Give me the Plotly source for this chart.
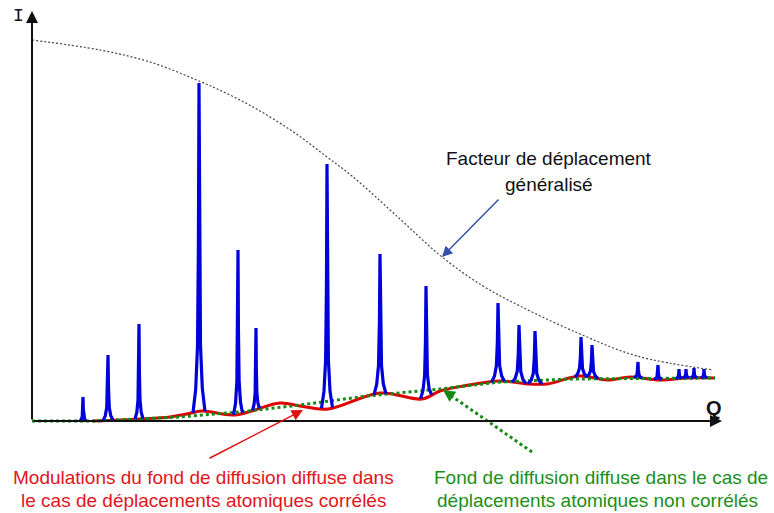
import numpy as np
import plotly.graph_objects as go

# ---------------- data (Q along the axis, I above the baseline) ----------------
# generalised displacement factor (grey dotted envelope)
env_q = [0, 68, 118, 167, 198, 228, 263, 295, 320, 368, 410, 451, 488, 548, 605, 681]
env_i = [381, 371, 359, 340, 326, 310, 288, 264, 245, 202, 164, 135, 115, 87, 65, 51]

# diffuse background, correlated displacements (red, modulated)
red_q = [61, 108, 138, 155, 170, 203, 248, 268, 296, 348, 390, 408, 431, 468, 498, 515, 548, 575, 598, 628, 655, 683]
red_i = [0, 2, 4, 7, 10, 6, 18, 15, 12, 28, 22, 30, 35, 40, 37, 37, 45, 41, 44, 41, 43, 43]

# diffuse background, uncorrelated displacements (green dotted)
grn_q = [0, 63, 148, 208, 268, 335, 408, 468, 538, 683]
grn_i = [0, 0, 4, 9, 16, 25, 32, 39, 42, 43]

# Bragg peaks: position, top intensity, half base width
peak_q = [51, 76, 107, 167, 206, 224, 295, 348, 394, 466, 487, 503, 549, 560, 606, 626, 647, 654, 662, 672]
peak_i = [24, 66, 97, 338, 171, 93, 257, 167, 135, 118, 96, 90, 84, 76, 59, 56, 52, 52, 53, 52]
peak_w = [3, 5, 4, 6, 4.5, 3.5, 5.5, 6, 5.5, 6.5, 7, 7, 6, 6, 4, 4, 3, 3, 3, 3]

# ---------------- build peak polyline ----------------
prof_t = [-1, -0.55, -0.25, -0.1, 0, 0.1, 0.25, 0.55, 1]
prof_f = [0, 0.07, 0.2, 0.5, 1, 0.5, 0.2, 0.07, 0]
bx, by = [], []
for q, top, w in zip(peak_q, peak_i, peak_w):
    for t, f in zip(prof_t, prof_f):
        xx = q + t * w
        base = float(np.interp(xx, red_q, red_i, left=0.0))
        if q < red_q[0]:
            base = 0.0
        bx.append(xx)
        by.append(base + (top - base) * f)
    bx.append(None)
    by.append(None)

fig = go.Figure()

fig.add_trace(go.Scatter(x=env_q, y=env_i, mode="lines",
                         line=dict(color="#444444", width=1.2, dash="2px,2px", shape="spline", smoothing=1.0),
                         hoverinfo="skip"))
fig.add_trace(go.Scatter(x=red_q, y=red_i, mode="lines",
                         line=dict(color="#e00000", width=3, shape="spline", smoothing=1.0),
                         hoverinfo="skip"))
fig.add_trace(go.Scatter(x=grn_q, y=grn_i, mode="lines",
                         line=dict(color="#138a13", width=3, dash="dot"),
                         hoverinfo="skip"))
fig.add_trace(go.Scatter(x=bx, y=by, mode="lines",
                         line=dict(color="#0000dd", width=3.2),
                         hoverinfo="skip", connectgaps=False))

# green dotted pointer line
fig.add_trace(go.Scatter(x=[500, 413], y=[-31, 29.5], mode="lines",
                         line=dict(color="#138a13", width=3, dash="dot"),
                         hoverinfo="skip"))

ann = []
# axes with arrows
ann.append(dict(x=690, y=0, ax=0, ay=0, xref="x", yref="y", axref="x", ayref="y",
                text="", showarrow=True, arrowhead=2, arrowsize=1.2, arrowwidth=2, arrowcolor="#111111"))
ann.append(dict(x=0, y=410, ax=0, ay=0, xref="x", yref="y", axref="x", ayref="y",
                text="", showarrow=True, arrowhead=2, arrowsize=1.2, arrowwidth=2, arrowcolor="#111111"))
ann.append(dict(x=-14, y=405, text="I", showarrow=False,
                font=dict(family="Liberation Mono", size=18, color="#111111")))
ann.append(dict(x=682, y=13, text="<b>Q</b>", showarrow=False,
                font=dict(family="Liberation Sans", size=20, color="#111111")))

# pointer arrows
ann.append(dict(x=410, y=164, ax=468, ay=223, xref="x", yref="y", axref="x", ayref="y",
                text="", showarrow=True, arrowhead=2, arrowsize=1.4, arrowwidth=1.5, arrowcolor="#3450a8"))
ann.append(dict(x=271, y=11, ax=176, ay=-38, xref="x", yref="y", axref="x", ayref="y",
                text="", showarrow=True, arrowhead=2, arrowsize=1.5, arrowwidth=1.5, arrowcolor="#e01010"))
ann.append(dict(x=411, y=31, ax=419, ay=25.5, xref="x", yref="y", axref="x", ayref="y",
                text="", showarrow=True, arrowhead=2, arrowsize=1.2, arrowwidth=2, arrowcolor="#138a13"))

# texts
tf = "Liberation Sans"
ann.append(dict(x=517, y=263, text="Facteur de déplacement", showarrow=False,
                font=dict(family=tf, size=19, color="#111111")))
ann.append(dict(x=517, y=237, text="généralisé", showarrow=False,
                font=dict(family=tf, size=19, color="#111111")))
ann.append(dict(x=171, y=-56, text="Modulations du fond de diffusion diffuse dans", showarrow=False,
                font=dict(family=tf, size=19, color="#e3141c")))
ann.append(dict(x=171, y=-79, text="le cas de déplacements atomiques corrélés", showarrow=False,
                font=dict(family=tf, size=19, color="#e3141c")))
ann.append(dict(x=569, y=-56, text="Fond de diffusion diffuse dans le cas de", showarrow=False,
                font=dict(family=tf, size=19, color="#1a8f1a")))
ann.append(dict(x=565, y=-79, text="déplacements atomiques non corrélés", showarrow=False,
                font=dict(family=tf, size=19, color="#1a8f1a")))

fig.update_layout(
    width=774, height=513,
    margin=dict(l=0, r=0, t=0, b=0),
    paper_bgcolor="white", plot_bgcolor="white",
    showlegend=False,
    xaxis=dict(range=[-32, 742], visible=False, fixedrange=True),
    yaxis=dict(range=[-92, 421], visible=False, fixedrange=True),
    annotations=ann,
)

fig.write_html("out.html")
